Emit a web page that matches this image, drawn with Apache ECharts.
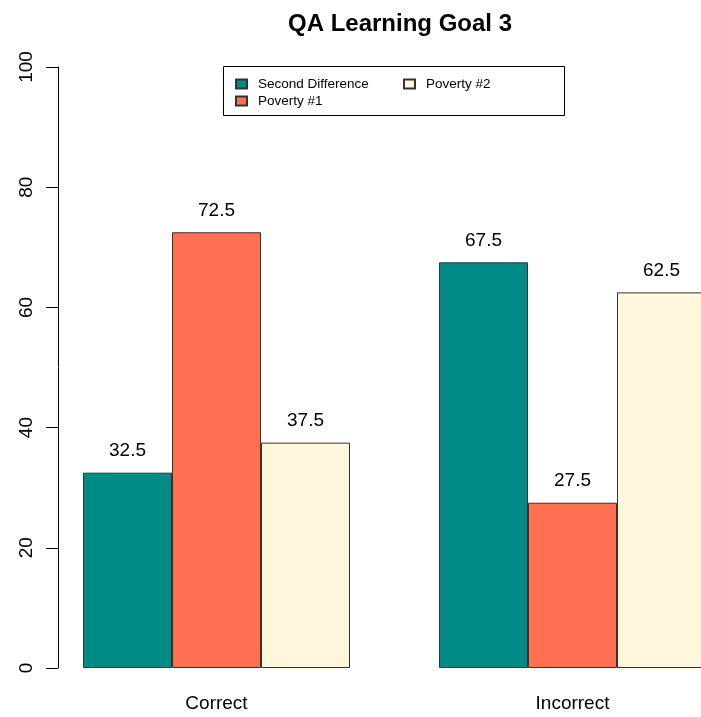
<!DOCTYPE html>
<html>
<head>
<meta charset="utf-8">
<script src="https://cdn.jsdelivr.net/npm/echarts@6/dist/echarts.min.js"></script>
<style>
html,body{margin:0;padding:0;background:#fff;overflow:hidden;}
#wrap{width:701px;height:717px;overflow:hidden;position:relative;}
#c{width:760px;height:717px;position:absolute;left:0;top:0;}
</style>
</head>
<body>
<div id="wrap"><div id="c"></div></div>
<script>
const categories = ['Correct', 'Incorrect'];
const seriesNames = ['Second Difference', 'Poverty #1', 'Poverty #2'];
const secondDifference = [32.5, 67.5];
const poverty1 = [72.5, 27.5];
const poverty2 = [37.5, 62.5];
const colors = ['#008B86', '#FF7052', '#FFF7DC'];
const FONT = '"Liberation Sans", Arial, Helvetica, sans-serif';

const chart = echarts.init(document.getElementById('c'), null, {renderer: 'canvas'});
const dataSets = [secondDifference, poverty1, poverty2];
const series = dataSets.map((d, i) => ({
  name: seriesNames[i],
  type: 'bar',
  data: d,
  barGap: '0%',
  barCategoryGap: '25%',
  itemStyle: {color: colors[i], borderColor: '#333', borderWidth: 1},
  label: {show: true, position: 'top', distance: 12, color: '#000', fontSize: 19, fontFamily: FONT,
          formatter: p => p.value.toFixed(1)},
  emphasis: {disabled: true}
}));

chart.setOption({
  animation: false,
  backgroundColor: '#fff',
  title: {
    text: 'QA Learning Goal 3', left: 395, top: 7, textAlign: 'center',
    textStyle: {fontSize: 24, fontWeight: 'bold', color: '#000', fontFamily: FONT}
  },
  legend: [
    {data: ['Second Difference', 'Poverty #1'], orient: 'vertical', left: 230, top: 72, itemGap: 3,
     itemWidth: 11, itemHeight: 9, icon: 'rect', selectedMode: false,
     textStyle: {fontSize: 13.5, color: '#000', fontFamily: FONT, padding: [0, 0, 0, 6]}},
    {data: ['Poverty #2'], orient: 'vertical', left: 398, top: 72, itemGap: 3,
     itemWidth: 11, itemHeight: 9, icon: 'rect', selectedMode: false,
     textStyle: {fontSize: 13.5, color: '#000', fontFamily: FONT, padding: [0, 0, 0, 6]}}
  ],
  graphic: [{
    type: 'rect', shape: {x: 223.5, y: 66.5, width: 341, height: 49},
    style: {fill: 'none', stroke: '#000', lineWidth: 1}, z: 10
  }],
  grid: {left: 38.5, width: 712, top: 67, bottom: 49, containLabel: false},
  xAxis: {
    type: 'category', data: categories,
    axisLine: {show: false}, axisTick: {show: false},
    axisLabel: {margin: 26, fontSize: 19, color: '#000', fontFamily: FONT}
  },
  yAxis: {
    type: 'value', min: 0, max: 100, interval: 20, offset: -19.5,
    axisLine: {show: true, lineStyle: {color: '#000', width: 1}},
    axisTick: {show: true, length: 12, lineStyle: {color: '#000'}},
    splitLine: {show: false},
    axisLabel: {rotate: 90, margin: 22, fontSize: 19, color: '#000', fontFamily: FONT}
  },
  series: series
});
</script>
</body>
</html>
